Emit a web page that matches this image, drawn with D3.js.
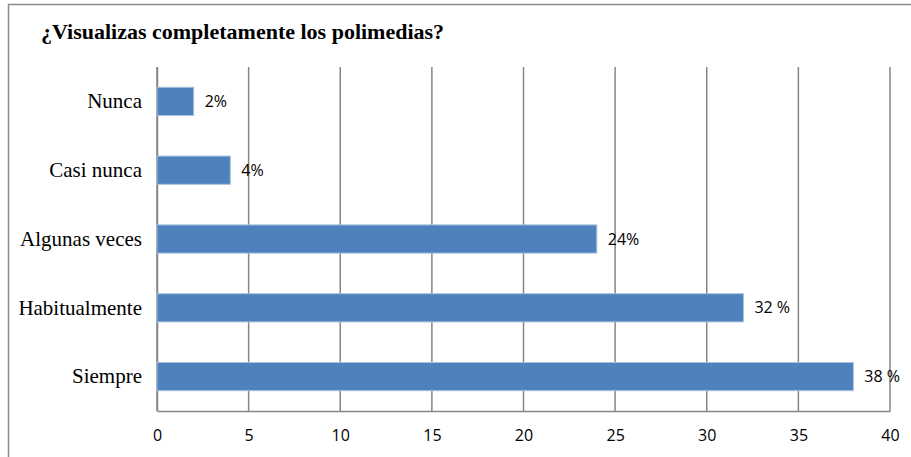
<!DOCTYPE html>
<html>
<head>
<meta charset="utf-8">
<script src="https://cdn.jsdelivr.net/npm/d3@7"></script>
<style>
  body { margin: 0; background: #fff; }
</style>
</head>
<body>
<div id="chart"></div>
<script>
const categories = ['Nunca', 'Casi nunca', 'Algunas veces', 'Habitualmente', 'Siempre']
const values = [2, 4, 24, 32, 38]
const labels = ['2%', '4%', '24%', '32 %', '38 %']
const ticks = [0, 5, 10, 15, 20, 25, 30, 35, 40]

let width = 911
let height = 457
let plot = {left: 157, right: 890, top: 67, bottom: 411}

const svg = d3.select('#chart')
  .append('svg')
  .attr('width', width)
  .attr('height', height)

// outer frame
svg.append('rect')
  .attr('x', 8.5).attr('y', 4.5)
  .attr('width', width + 10).attr('height', height + 10)
  .attr('fill', 'none')
  .attr('stroke', '#8c8c8c')
  .attr('stroke-width', 1.5)

svg.append('text')
  .attr('x', 41).attr('y', 39)
  .attr('font-family', 'Liberation Serif, Times New Roman, serif')
  .attr('font-weight', 'bold')
  .attr('font-size', 22)
  .text('¿Visualizas completamente los polimedias?')

let xScale = d3.scaleLinear()
  .domain([0, 40])
  .range([plot.left, plot.right])

let yScale = d3.scaleBand()
  .domain(categories)
  .range([plot.top, plot.bottom])
  .paddingInner(0.59)
  .paddingOuter(0.295)

// gridlines
svg.append('g')
  .selectAll('line')
  .data(ticks)
  .join('line')
  .attr('x1', d => xScale(d)).attr('x2', d => xScale(d))
  .attr('y1', plot.top).attr('y2', plot.bottom)
  .attr('stroke', '#868686')
  .attr('stroke-width', 1.5)

// x axis
svg.append('g')
  .attr('transform', `translate(0,${plot.bottom})`)
  .call(d3.axisBottom(xScale).tickValues(ticks).tickSize(0).tickPadding(19))
  .call(g => g.select('.domain').attr('stroke', '#868686').attr('stroke-width', 1.5))
  .call(g => g.selectAll('text')
    .attr('font-family', 'Open Sans, sans-serif')
    .attr('font-size', 16)
    .attr('fill', '#000'))

// y axis
svg.append('g')
  .attr('transform', `translate(${plot.left},0)`)
  .call(d3.axisLeft(yScale).tickSize(0).tickPadding(15))
  .call(g => g.select('.domain').attr('stroke', '#868686').attr('stroke-width', 1.5))
  .call(g => g.selectAll('text')
    .attr('font-family', 'Liberation Serif, Times New Roman, serif')
    .attr('font-size', 21)
    .attr('fill', '#000'))

// bars
svg.append('g')
  .selectAll('rect')
  .data(values)
  .join('rect')
  .attr('x', xScale(0))
  .attr('y', (d, i) => yScale(categories[i]))
  .attr('width', d => xScale(d) - xScale(0))
  .attr('height', yScale.bandwidth())
  .attr('fill', '#4f81bd')
  .attr('stroke', '#a7c0de')
  .attr('stroke-width', 1)

// data labels
svg.append('g')
  .selectAll('text')
  .data(values)
  .join('text')
  .attr('x', d => xScale(d) + 11)
  .attr('y', (d, i) => yScale(categories[i]) + yScale.bandwidth() / 2)
  .attr('dy', '0.35em')
  .attr('font-family', 'Open Sans, sans-serif')
  .attr('font-size', 16)
  .text((d, i) => labels[i])
</script>
</body>
</html>
